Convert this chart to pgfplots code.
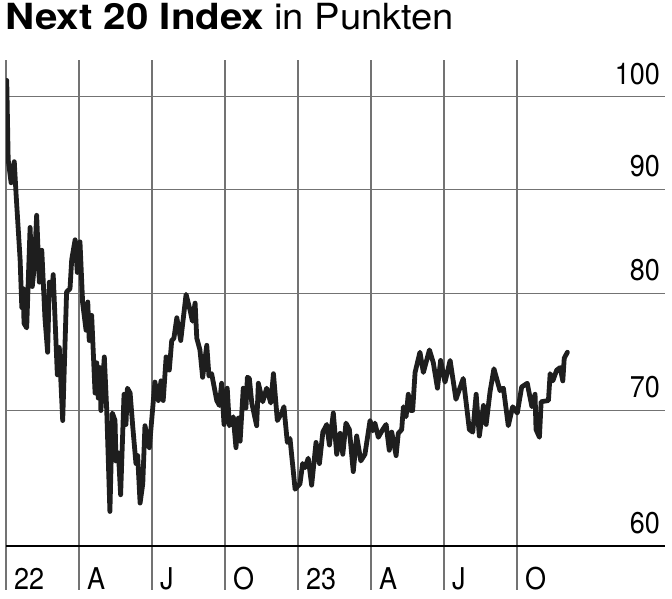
\documentclass[border=0pt]{standalone}
\usepackage{fontspec}
\setmainfont{TeX Gyre Heros}
\newfontfamily\condfont{TeX Gyre Heros}[FakeStretch=0.9]
\newfontfamily\titleboldfont{TeX Gyre Heros Bold}[FakeStretch=1.12]
\newfontfamily\titleregfont{TeX Gyre Heros}[FakeStretch=1.06]
\usepackage{pgfplots}
\usepackage{pgfplotstable}
\pgfplotsset{compat=1.18}
\definecolor{gridgray}{RGB}{115,115,115}
\definecolor{linecol}{RGB}{30,30,30}
\pgfplotstableread{
m v
0.03 101.9
0.09 93.1
0.21 90.7
0.34 92.9
0.41 89.7
0.58 83.1
0.65 78.7
0.71 80.4
0.74 77.3
0.85 76.9
0.99 86.2
1.08 80.6
1.16 82.4
1.26 87.4
1.37 81.0
1.47 84.0
1.60 77.8
1.71 74.8
1.78 81.0
1.88 79.9
1.94 81.7
2.11 72.9
2.19 75.2
2.33 69.2
2.49 80.1
2.63 80.4
2.70 83.1
2.84 85.0
2.93 81.9
3.04 84.8
3.15 79.1
3.29 76.7
3.36 79.2
3.42 75.8
3.52 78.0
3.66 71.4
3.73 73.9
3.79 71.0
3.86 73.5
3.90 70.0
4.04 74.4
4.14 70.0
4.27 62.4
4.37 69.8
4.48 69.2
4.52 66.1
4.62 66.7
4.71 63.6
4.85 71.3
4.93 68.9
4.99 71.8
5.10 71.4
5.21 68.7
5.34 65.9
5.41 66.5
5.51 63.0
5.62 64.4
5.71 68.8
5.89 67.1
6.12 72.3
6.26 70.8
6.37 72.4
6.46 70.8
6.58 74.4
6.71 73.3
6.81 75.8
6.90 76.0
7.02 77.8
7.18 75.8
7.40 79.9
7.56 78.5
7.66 77.5
7.77 79.1
7.84 76.0
7.97 75.0
8.08 72.7
8.25 75.4
8.34 72.8
8.45 73.0
8.66 70.8
8.77 70.4
8.86 72.2
8.96 68.9
9.09 71.8
9.18 68.8
9.28 69.2
9.34 69.5
9.45 67.1
9.55 69.4
9.62 67.6
9.75 71.8
9.86 70.2
9.92 72.7
10.00 72.6
10.10 70.6
10.30 68.8
10.37 72.2
10.55 70.7
10.71 71.8
10.88 70.6
10.99 73.0
11.15 69.2
11.33 69.8
11.42 70.3
11.56 67.5
11.67 67.8
11.88 64.0
12.08 64.4
12.19 65.9
12.29 65.6
12.42 66.3
12.56 64.3
12.74 67.5
12.88 65.9
13.02 68.3
13.18 68.9
13.29 67.3
13.45 69.8
13.59 66.6
13.73 68.2
13.84 66.6
13.97 69.0
14.11 68.5
14.27 65.3
14.41 68.0
14.58 66.1
14.75 66.6
14.96 69.2
15.07 68.4
15.16 69.0
15.30 67.9
15.48 68.5
15.62 68.9
15.75 66.9
15.85 68.3
16.03 66.5
16.12 68.2
16.26 68.5
16.33 70.3
16.44 69.5
16.53 71.3
16.63 70.0
16.71 70.0
16.81 73.1
17.01 74.8
17.15 73.1
17.40 75.0
17.56 73.9
17.73 71.8
17.86 74.1
18.04 72.3
18.25 74.1
18.49 70.9
18.79 72.6
19.04 68.5
19.18 68.3
19.32 71.3
19.45 68.0
19.62 70.4
19.73 68.9
19.89 71.5
20.05 73.4
20.30 71.6
20.44 71.8
20.64 68.8
20.82 70.3
21.01 69.8
21.19 71.9
21.42 72.2
21.61 70.3
21.74 71.3
21.78 68.5
21.92 67.9
21.99 70.7
22.29 70.8
22.36 73.0
22.47 72.4
22.63 73.3
22.77 73.5
22.88 72.4
22.94 74.3
23.07 74.8
}\indexdata
\begin{document}
\begin{tikzpicture}
\useasboundingbox (0,0) rectangle (672pt,599pt);
\node[anchor=base west, inner sep=0pt] at (5pt,569pt)
  {\fontsize{36}{40}\selectfont{\titleboldfont Next 20 Index} {\titleregfont in Punkten}};
\begin{axis}[
  at={(6pt,9pt)}, anchor=south west,
  scale only axis, width=659pt, height=530pt,
  xmin=0, xmax=27.08,
  ymode=log, ymin=57.07, ymax=104.3,
  axis line style={draw=none},
  major tick length=0pt, minor tick length=0pt,
  xtick={0,3,6,9,12,15,18,21},
  xticklabels={22,A,J,O,23,A,J,O},
  ytick={70,80,90,100},
  yticklabels={70,80,90,100},
  extra y ticks={60},
  extra y tick labels={60},
  extra y tick style={ymajorgrids=true, grid style={black, line width=1.2pt}},
  grid style={gridgray, line width=1.1pt},
  xmajorgrids, ymajorgrids,
  yticklabel pos=right,
  yticklabel style={anchor=south east, inner sep=0pt, xshift=-5pt, yshift=12pt,
    font=\condfont\fontsize{30}{30}\selectfont},
  xticklabel style={anchor=south west, inner sep=0pt, xshift=8pt, yshift=0pt,
    font=\condfont\fontsize{30}{30}\selectfont},
]
\addplot[linecol, line width=4.8pt, line join=round, line cap=round] table[x=m, y=v] {\indexdata};
\end{axis}
\end{tikzpicture}
\end{document}
